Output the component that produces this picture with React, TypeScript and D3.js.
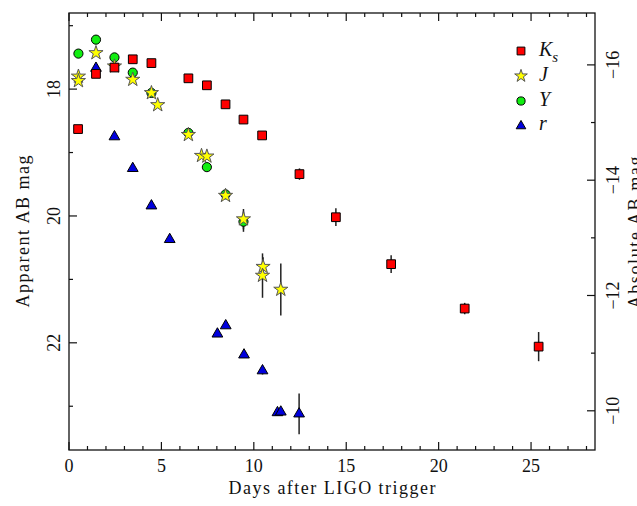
import React, { useEffect, useRef } from "react";
import * as d3 from "d3";

// light curve, days after trigger vs apparent AB mag
const ksDays = [0.49, 1.46, 2.46, 3.45, 4.46, 6.46, 7.46, 8.47, 9.44, 10.45, 12.47, 14.44, 17.43, 21.41, 25.41];
const ksMags = [18.63, 17.76, 17.66, 17.53, 17.59, 17.83, 17.94, 18.24, 18.48, 18.73, 19.34, 20.02, 20.76, 21.46, 22.06];
const ksErrs = [0, 0, 0, 0, 0, 0, 0, 0, 0, 0, 0.09, 0.14, 0.14, 0.09, 0.23];

const jDays = [0.51, 0.51, 1.46, 2.46, 3.45, 4.46, 4.8, 6.46, 7.17, 7.46, 8.47, 9.44, 10.5, 10.47, 11.46];
const jMags = [17.8, 17.87, 17.43, 17.64, 17.85, 18.06, 18.25, 18.72, 19.05, 19.06, 19.68, 20.05, 20.8, 20.94, 21.16];
const jErrs = [0, 0, 0, 0, 0, 0, 0, 0, 0, 0, 0.05, 0.16, 0.15, 0.35, 0.41];

const yDays = [0.51, 1.46, 2.46, 3.45, 4.46, 6.46, 7.46, 8.47, 9.44];
const yMags = [17.44, 17.22, 17.5, 17.74, 18.06, 18.69, 19.23, 19.66, 20.09];
const yErrs = [0, 0, 0, 0, 0, 0, 0, 0, 0.16];

const rDays = [1.46, 2.46, 3.45, 4.46, 5.45, 8.03, 8.48, 9.47, 10.47, 11.28, 11.46, 12.45];
const rMags = [17.67, 18.75, 19.25, 19.84, 20.37, 21.86, 21.73, 22.19, 22.44, 23.1, 23.09, 23.12];
const rErrs = [0, 0, 0, 0, 0, 0, 0, 0, 0.06, 0, 0, 0.32];

const xTicks = [0, 5, 10, 15, 20, 25];
const appTicks = [18, 20, 22];
const absTicks = [-16, -14, -12, -10];

const W = 637, H = 506;
const left = 69, right = 595, top = 13, bottom = 450;
const FONT = "'Liberation Serif', serif";

const App = () => {
  const ref = useRef<SVGSVGElement>(null);

  useEffect(() => {
    const svg = d3.select(ref.current);
    svg.selectAll("*").remove();

    const x = d3.scaleLinear().domain([0, 28.46]).range([left, right]);
    const y = d3.scaleLinear().domain([16.8, 23.69]).range([top, bottom]);
    const yAbs = d3.scaleLinear().domain([-16.9, -9.32]).range([top, bottom]);

    svg.append("rect").attr("width", W).attr("height", H).attr("fill", "white");

    // ticks, all inward
    const ax = svg.append("g").attr("stroke", "#111").attr("stroke-width", 1.2);
    d3.range(0, 29).forEach((d) => {
      const len = d % 5 === 0 ? 8 : 4;
      ax.append("line").attr("x1", x(d)).attr("x2", x(d)).attr("y1", bottom).attr("y2", bottom - len);
      ax.append("line").attr("x1", x(d)).attr("x2", x(d)).attr("y1", top).attr("y2", top + len);
    });
    d3.range(17, 24).forEach((d) => {
      const len = d % 2 === 0 ? 8 : 4;
      ax.append("line").attr("x1", left).attr("x2", left + len).attr("y1", y(d)).attr("y2", y(d));
    });
    d3.range(-16, -9).forEach((d) => {
      const len = d % 2 === 0 ? 8 : 4;
      ax.append("line").attr("x1", right).attr("x2", right - len).attr("y1", yAbs(d)).attr("y2", yAbs(d));
    });

    const txt = svg.append("g").attr("font-family", FONT).attr("font-size", 18).attr("fill", "#111");
    xTicks.forEach((d) => {
      txt.append("text").attr("x", x(d)).attr("y", 472).attr("text-anchor", "middle").text(d);
    });
    appTicks.forEach((d) => {
      txt.append("text").attr("transform", `translate(60,${y(d)}) rotate(-90)`)
        .attr("text-anchor", "middle").text(d);
    });
    absTicks.forEach((d) => {
      txt.append("text").attr("transform", `translate(619,${yAbs(d)}) rotate(-90)`)
        .attr("text-anchor", "middle").text(String(d).replace("-", "\u2212"));
    });
    txt.append("text").attr("x", (left + right) / 2).attr("y", 494).attr("text-anchor", "middle")
      .attr("textLength", 207).attr("lengthAdjust", "spacing").text("Days after LIGO trigger");
    txt.append("text").attr("transform", `translate(29,${(top + bottom) / 2}) rotate(-90)`)
      .attr("text-anchor", "middle").attr("textLength", 152).attr("lengthAdjust", "spacing")
      .text("Apparent AB mag");
    txt.append("text").attr("transform", `translate(641,${(top + bottom) / 2 + 1}) rotate(-90)`)
      .attr("text-anchor", "middle").attr("textLength", 152).attr("lengthAdjust", "spacing")
      .text("Absolute AB mag");

    const band = (days: number[], mags: number[], errs: number[]) =>
      days.map((d, i) => ({ d, m: mags[i], e: errs[i] }));

    const sets = [
      { key: "r", pts: band(rDays, rMags, rErrs), sym: d3.symbolTriangle, size: 50, fill: "#0000dd", stroke: "#000" },
      { key: "Y", pts: band(yDays, yMags, yErrs), sym: d3.symbolCircle, size: 66, fill: "#11ee11", stroke: "#000" },
      { key: "J", pts: band(jDays, jMags, jErrs), sym: d3.symbolStar, size: 62, fill: "#ffff00", stroke: "#555" },
      { key: "Ks", pts: band(ksDays, ksMags, ksErrs), sym: d3.symbolSquare, size: 76, fill: "#ff0000", stroke: "#000" },
    ];

    const errG = svg.append("g").attr("stroke", "#222").attr("stroke-width", 1.5);
    sets.forEach((s) => {
      s.pts.filter((p) => p.e > 0).forEach((p) => {
        errG.append("line").attr("x1", x(p.d)).attr("x2", x(p.d))
          .attr("y1", y(p.m - p.e)).attr("y2", y(p.m + p.e));
      });
    });

    sets.forEach((s) => {
      svg.append("g").selectAll("path").data(s.pts).join("path")
        .attr("d", d3.symbol(s.sym, s.size)())
        .attr("transform", (p) => `translate(${x(p.d)},${y(p.m)})`)
        .attr("fill", s.fill).attr("stroke", s.stroke).attr("stroke-width", 1);
    });

    // legend
    const leg = [
      { s: sets[3], label: "K", sub: "s" },
      { s: sets[2], label: "J", sub: "" },
      { s: sets[1], label: "Y", sub: "" },
      { s: sets[0], label: "r", sub: "" },
    ];
    leg.forEach((l, i) => {
      const cy = 51 + i * 25;
      svg.append("path").attr("d", d3.symbol(l.s.sym, l.s.size * 0.8)())
        .attr("transform", `translate(521,${cy})`)
        .attr("fill", l.s.fill).attr("stroke", l.s.stroke).attr("stroke-width", 1);
      const t = svg.append("text").attr("x", 539).attr("y", cy + 4 + (l.label === "r" ? 0 : 1))
        .attr("font-family", FONT).attr("font-style", "italic").attr("font-size", 20).attr("fill", "#111")
        .text(l.label);
      if (l.sub) t.append("tspan").attr("font-size", 15).attr("dy", 6).text(l.sub);
    });

    svg.append("rect").attr("x", left).attr("y", top).attr("width", right - left).attr("height", bottom - top)
      .attr("fill", "none").attr("stroke", "#111").attr("stroke-width", 1.3);
  }, []);

  return (
    <svg ref={ref} width={W} height={H} style={{ position: "absolute", left: 0, top: 0 }} />
  );
};

export default App;
